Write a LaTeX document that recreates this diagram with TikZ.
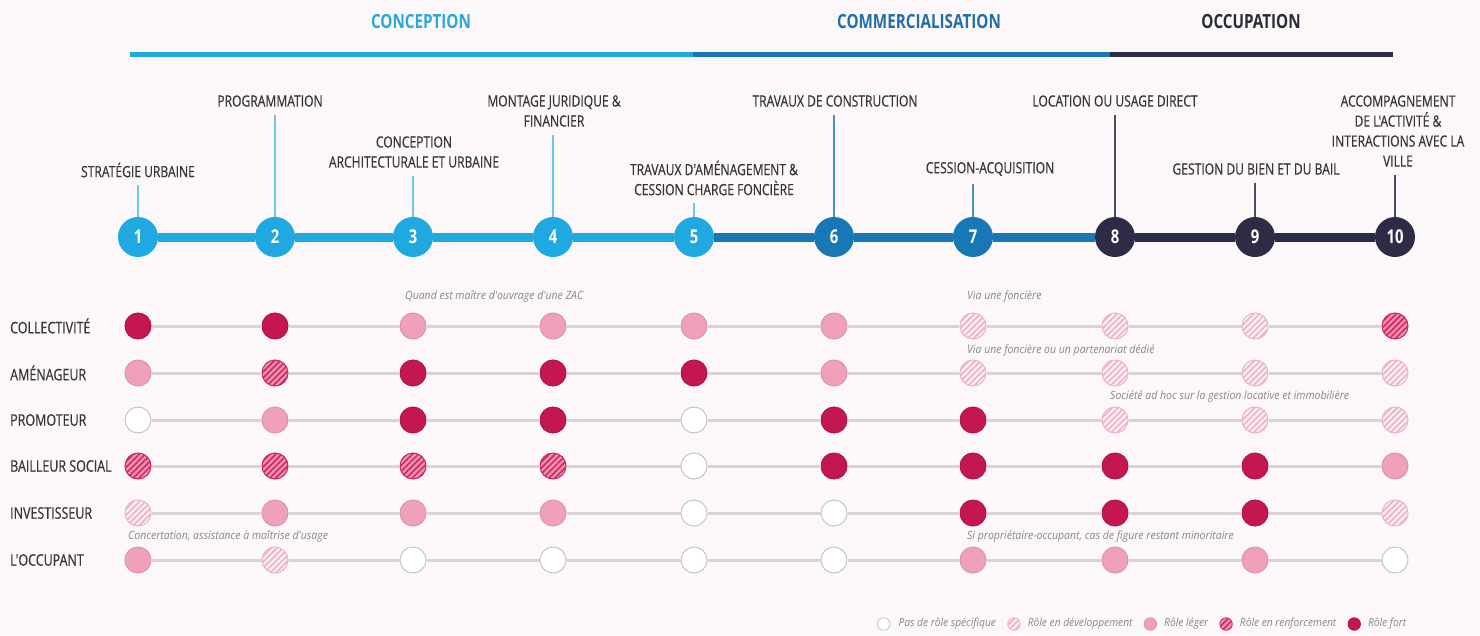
\documentclass[tikz,border=0pt]{standalone}
\usepackage{fontspec}
\setmainfont{Open Sans}[FakeStretch=0.78]
\newfontfamily\labelfont{Open Sans}[FakeStretch=0.78, FakeBold=0.4]
\newfontfamily\notefont{Open Sans}[FakeStretch=0.92]
\usetikzlibrary{patterns.meta}

\definecolor{bg}{HTML}{FCF8F9}
\definecolor{cLight}{HTML}{1FA9E0}
\definecolor{cMid}{HTML}{1877B5}
\definecolor{cNavy}{HTML}{2E2B47}
\definecolor{tLight}{HTML}{2AA8DD}
\definecolor{tMid}{HTML}{206FAA}
\definecolor{tNavy}{HTML}{2B2A3B}
\definecolor{ink}{HTML}{363537}
\definecolor{notegrey}{HTML}{8A8688}
\definecolor{rowgrey}{HTML}{D8D3D5}
\definecolor{fortc}{HTML}{C5174F}
\definecolor{legerc}{HTML}{EFA1BA}
\definecolor{renfbg}{HTML}{F08FB0}
\definecolor{renfline}{HTML}{CB2659}
\definecolor{devbg}{HTML}{FBEFF3}
\definecolor{devline}{HTML}{EDB2C5}
\definecolor{noneedge}{HTML}{C9C3C6}

\begin{document}
\begin{tikzpicture}[x=1pt,y=-1pt,
  phase/.style={font=\bfseries\fontsize{19.5}{22}\selectfont, inner sep=0pt},
  phasebar/.style={line width=5pt},
  stepdot/.style={circle, minimum size=40pt, inner sep=0pt, text=white,
    font=\bfseries\fontsize{19}{20}\selectfont},
  track/.style={line width=9pt},
  steplabel/.style={text=ink, font=\labelfont\fontsize{15.5}{20}\selectfont, align=center, inner sep=0pt},
  leader/.style={line width=1.3pt, shorten <=8pt},
  rowlabel/.style={text=ink, font=\labelfont\fontsize{16}{18}\selectfont, anchor=west, inner sep=0pt},
  rowline/.style={draw=rowgrey, line width=3pt},
  roledot/.style={circle, minimum size=26pt, inner sep=0pt, line width=1pt},
  rnone/.style={roledot, fill=white, draw=noneedge},
  rdev/.style={roledot, draw=devline, preaction={fill=devbg},
    pattern={Lines[angle=45,distance=4.2pt,line width=1.6pt]}, pattern color=devline},
  rleger/.style={roledot, fill=legerc, draw=legerc!92!black},
  rrenf/.style={roledot, draw=renfline, preaction={fill=renfbg},
    pattern={Lines[angle=45,distance=4.2pt,line width=1.5pt]}, pattern color=renfline},
  rfort/.style={roledot, fill=fortc, draw=fortc!90!black},
  annot/.style={text=notegrey, font=\notefont\itshape\fontsize{11.4}{13}\selectfont, anchor=west, inner sep=0pt},
  keydot/.style={minimum size=12.5pt, line width=0.8pt, anchor=west},
  keytext/.style={text=notegrey, font=\notefont\itshape\fontsize{11.1}{12}\selectfont, anchor=west, inner sep=0pt},
]
\useasboundingbox (0,0) rectangle (1480,635);
\fill[bg] (0,0) rectangle (1480,635);

% phases
\node[phase, text=tLight] (ph1) at (421,22) {CONCEPTION};
\node[phase, text=tMid] (ph2) at (919,22) {COMMERCIALISATION};
\node[phase, text=tNavy] (ph3) at (1251,22) {OCCUPATION};
\coordinate (pb0) at (130,54);
\coordinate (pb1) at (693,54);
\coordinate (pb2) at (1110,54);
\coordinate (pb3) at (1393,54);
\draw[phasebar, cLight] (pb0) -- (pb1);
\draw[phasebar, cMid] (pb1) -- (pb2);
\draw[phasebar, cNavy] (pb2) -- (pb3);

% steps
\foreach \i/\x/\col in {1/138/cLight, 2/275/cLight, 3/413/cLight, 4/553/cLight,
  5/694/cLight, 6/834/cMid, 7/973/cMid, 8/1115/cNavy, 9/1255/cNavy, 10/1395/cNavy}
  \node[stepdot, fill=\col] (s\i) at (\x,237) {\i};
\foreach \a/\b/\col in {1/2/cLight, 2/3/cLight, 3/4/cLight, 4/5/cLight,
  5/6/cMid, 6/7/cMid, 7/8/cMid, 8/9/cNavy, 9/10/cNavy}
  \draw[track, \col] (s\a) -- (s\b);

% step labels
\node[steplabel] (l1) at (138,170) {STRATÉGIE URBAINE};
\node[steplabel] (l2) at (270,101) {PROGRAMMATION};
\node[steplabel] (l3) at (414,152) {CONCEPTION\\ARCHITECTURALE ET URBAINE};
\node[steplabel] (l4) at (554,111) {MONTAGE JURIDIQUE \&\\FINANCIER};
\node[steplabel] (l5) at (714,178) {TRAVAUX D'AMÉNAGEMENT \&\\CESSION CHARGE FONCIÈRE};
\node[steplabel] (l6) at (835,101) {TRAVAUX DE CONSTRUCTION};
\node[steplabel] (l7) at (990,169) {CESSION-ACQUISITION};
\node[steplabel] (l8) at (1115,101) {LOCATION OU USAGE DIRECT};
\node[steplabel] (l9) at (1256,169) {GESTION DU BIEN ET DU BAIL};
\node[steplabel] (l10) at (1398,131) {ACCOMPAGNEMENT\\DE L'ACTIVITÉ \&\\INTERACTIONS AVEC LA\\VILLE};
\foreach \i/\col in {1/cLight!65, 2/cLight!65, 3/cLight!65, 4/cLight!65, 5/cLight!65,
  6/cMid!80, 7/cMid!80, 8/cNavy!85, 9/cNavy!85, 10/cNavy!85}
  \draw[leader, \col] (l\i.south -| s\i) -- (s\i);

% actors
\node[rowlabel] (n1) at (10,326) {COLLECTIVITÉ};
\node[rowlabel] (n2) at (10,373) {AMÉNAGEUR};
\node[rowlabel] (n3) at (10,420) {PROMOTEUR};
\node[rowlabel] (n4) at (10,466) {BAILLEUR SOCIAL};
\node[rowlabel] (n5) at (10,513) {INVESTISSEUR};
\node[rowlabel] (n6) at (10,560) {L'OCCUPANT};

% role matrix
\foreach \r/\y/\roles in {
  1/326/{rfort,rfort,rleger,rleger,rleger,rleger,rdev,rdev,rdev,rrenf},
  2/373/{rleger,rrenf,rfort,rfort,rfort,rleger,rdev,rdev,rdev,rdev},
  3/420/{rnone,rleger,rfort,rfort,rnone,rfort,rfort,rdev,rdev,rdev},
  4/466/{rrenf,rrenf,rrenf,rrenf,rnone,rfort,rfort,rfort,rfort,rleger},
  5/513/{rdev,rleger,rleger,rleger,rnone,rnone,rfort,rfort,rfort,rdev},
  6/560/{rleger,rdev,rnone,rnone,rnone,rnone,rleger,rleger,rleger,rnone}}
{
  \foreach \st [count=\c] in \roles
    \node[\st] (m\r c\c) at (s\c |- 0,\y) {};
  \foreach \c [evaluate=\c as \n using int(\c+1)] in {1,...,9}
    \draw[rowline] (m\r c\c) -- (m\r c\n);
}

% notes
\node[annot] (a1) at (405,296) {Quand est maître d'ouvrage d'une ZAC};
\node[annot] (a2) at (967,296) {Via une foncière};
\node[annot] (a3) at (967,350) {Via une foncière ou un partenariat dédié};
\node[annot] (a4) at (1110,396) {Société ad hoc sur la gestion locative et immobilière};
\node[annot] (a5) at (128,536) {Concertation, assistance à maîtrise d'usage};
\node[annot] (a6) at (967,536) {Si propriétaire-occupant, cas de figure restant minoritaire};

% key
\node[rnone, keydot] (k1) at (877,624) {};
\node[keytext] (kt1) at ([xshift=8pt]k1.east) {Pas de rôle spécifique};
\node[rdev, keydot] (k2) at ([xshift=11pt]kt1.east) {};
\node[keytext] (kt2) at ([xshift=7pt]k2.east) {Rôle en développement};
\node[rleger, keydot] (k3) at ([xshift=11pt]kt2.east) {};
\node[keytext] (kt3) at ([xshift=7pt]k3.east) {Rôle léger};
\node[rrenf, keydot] (k4) at ([xshift=11pt]kt3.east) {};
\node[keytext] (kt4) at ([xshift=7pt]k4.east) {Rôle en renforcement};
\node[rfort, keydot] (k5) at ([xshift=11pt]kt4.east) {};
\node[keytext] (kt5) at ([xshift=7pt]k5.east) {Rôle fort};
\end{tikzpicture}
\end{document}
